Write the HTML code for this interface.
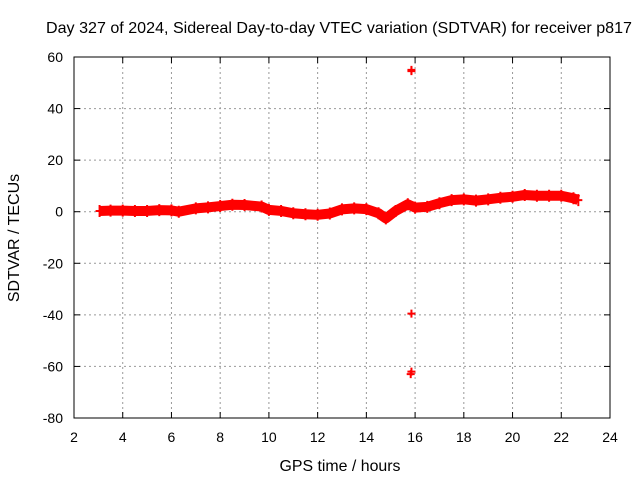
<!DOCTYPE html>
<html><head><meta charset="utf-8"><style>
body{margin:0;background:#fff}
svg{display:block;font-family:"Liberation Sans",sans-serif}
</style></head><body>
<svg id="chart" width="640" height="480" viewBox="0 0 640 480">
<rect width="640" height="480" fill="#fff"/>
<text x="339" y="33" font-size="16" text-anchor="middle" textLength="586" lengthAdjust="spacingAndGlyphs">Day 327 of 2024, Sidereal Day-to-day VTEC variation (SDTVAR) for receiver p817</text>
<text x="340" y="471" font-size="16" text-anchor="middle" textLength="121" lengthAdjust="spacingAndGlyphs">GPS time / hours</text>
<text transform="translate(19,238) rotate(-90)" font-size="16" text-anchor="middle">SDTVAR / TECUs</text>
<g id="grid"></g><g id="series"></g>
<rect x="74" y="57" width="536" height="361" fill="none" stroke="#000" stroke-width="1"/>
</svg>
<script>
const xTicks=[2,4,6,8,10,12,14,16,18,20,22,24];
const yTicks=[-80,-60,-40,-20,0,20,40,60];
const times=[3.05,3.5,4,4.5,5,5.5,6,6.3,7,7.5,8,8.5,9,9.7,10,10.5,11,11.5,12,12.5,13,13.5,14,14.5,14.8,15.2,15.7,16,16.5,17,17.5,18,18.5,19,19.5,20,20.5,21,21.5,22,22.5,22.7];
const values=[0.3,0.4,0.4,0.3,0.3,0.6,0.5,0,1.3,1.7,2.2,2.7,2.6,2,0.7,0.3,-0.6,-1,-1.2,-0.7,0.9,1.3,1,-0.6,-2.6,0.3,2.9,1.6,1.9,3.3,4.5,4.8,4.3,4.8,5.4,5.8,6.5,6.2,6.2,6.2,5.2,4.5];
const outlierTimes=[15.85,15.85,15.85,15.85,15.82];
const outlierValues=[55,54.5,-39.5,-62,-63];
const X=t=>74+(t-2)*(536/22);
const Y=v=>57+(60-v)*(361/140);
const NS='http://www.w3.org/2000/svg';
const g=document.getElementById('grid'),s=document.getElementById('series');
function mk(tag,a,p){const e=document.createElementNS(NS,tag);for(const k in a)e.setAttribute(k,a[k]);p.appendChild(e);return e;}
xTicks.forEach(t=>{
 if(t>2&&t<24){const l=mk('line',{x1:X(t),x2:X(t),y1:57,y2:418,stroke:'#999','stroke-dasharray':'2,3'},g);
 
 }
 mk('line',{x1:X(t),x2:X(t),y1:418,y2:412,stroke:'#000'},g);
 mk('line',{x1:X(t),x2:X(t),y1:57,y2:63,stroke:'#000'},g);
 const tx=mk('text',{x:X(t),y:442,'font-size':14,'text-anchor':'middle'},g);tx.textContent=t;
 
 
});
yTicks.forEach(v=>{
 if(v>-80&&v<60){const l=mk('line',{x1:74,x2:610,y1:Y(v),y2:Y(v),stroke:'#999','stroke-dasharray':'2,3'},g);
 
 }
 mk('line',{x1:74,x2:80,y1:Y(v),y2:Y(v),stroke:'#000'},g);
 mk('line',{x1:604,x2:610,y1:Y(v),y2:Y(v),stroke:'#000'},g);
 const tx=mk('text',{x:63,y:Y(v)+5,'font-size':14,'text-anchor':'end'},g);tx.textContent=v;
 
 
});
const pts=times.map((t,i)=>X(t)+','+Y(values[i])).join(' ');
const band=mk('polyline',{points:pts,fill:'none',stroke:'#f00','stroke-width':10,'stroke-linejoin':'round'},s);


times.forEach((t,i)=>{
 const p=mk('path',{d:`M${X(t)-4},${Y(values[i])}h8M${X(t)},${Y(values[i])-6}v12`,stroke:'#f00','stroke-width':2},s);
 
 
});
outlierTimes.forEach((t,i)=>{
 const p=mk('path',{d:`M${X(t)-4},${Y(outlierValues[i])}h8M${X(t)},${Y(outlierValues[i])-4}v8`,stroke:'#f00','stroke-width':2},s);
 
 
});
</script>
</body></html>
